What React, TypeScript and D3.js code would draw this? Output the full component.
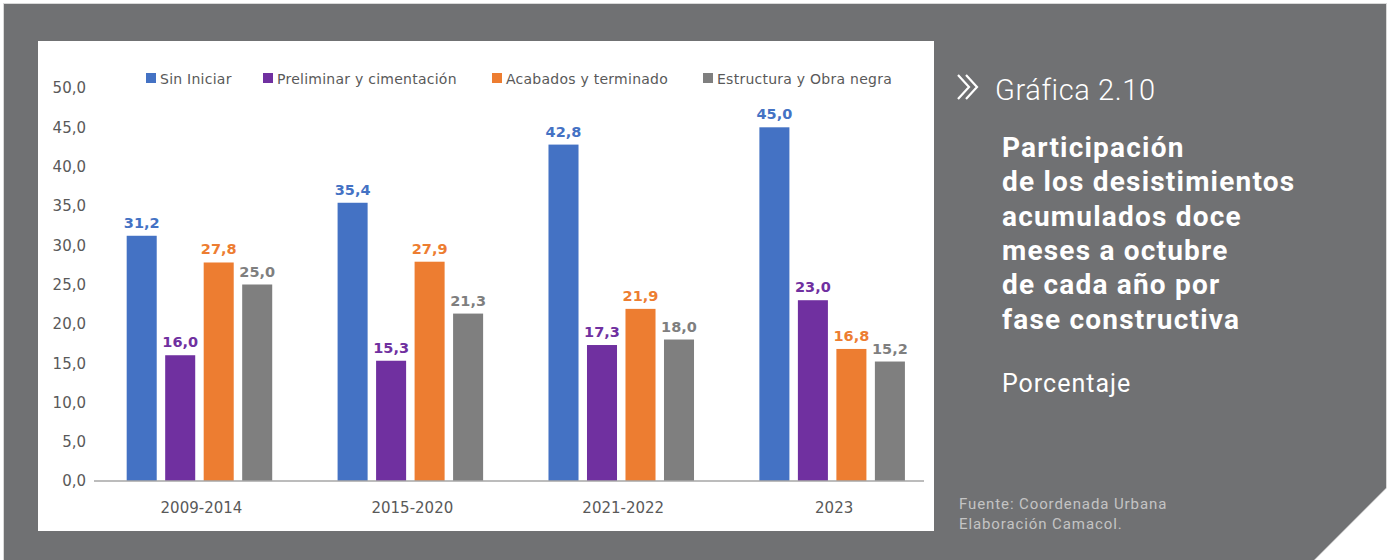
import React from 'react';
import * as d3 from 'd3';

const categories = ['2009-2014', '2015-2020', '2021-2022', '2023'];
const seriesNames = ['Sin Iniciar', 'Preliminar y cimentación', 'Acabados y terminado', 'Estructura y Obra negra'];
const sinIniciar = [31.2, 35.4, 42.8, 45.0];
const preliminar = [16.0, 15.3, 17.3, 23.0];
const acabados = [27.8, 27.9, 21.9, 16.8];
const estructura = [25.0, 21.3, 18.0, 15.2];
const seriesColors = ['#4472C4', '#7030A0', '#ED7D31', '#7F7F7F'];
const yTicks = [0, 5, 10, 15, 20, 25, 30, 35, 40, 45, 50];
const legendX = [146, 263, 492, 703];
const chartNumber = 'Gráfica 2.10';
const titleLines = [
  'Participación',
  'de los desistimientos',
  'acumulados doce',
  'meses a octubre',
  'de cada año por',
  'fase constructiva',
];
const unitLabel = 'Porcentaje';
const sourceLines = ['Fuente: Coordenada Urbana', 'Elaboración Camacol.'];

const seriesValues = [sinIniciar, preliminar, acabados, estructura];

const W = 1393;
const H = 560;
const BG = '#707173';
const CHART_FONT = '"DejaVu Sans", sans-serif';
const PANEL_FONT = 'Roboto, sans-serif';
const AXIS_TEXT = '#595959';

const locale = d3.formatLocale({ decimal: ',', thousands: '.', grouping: [3], currency: ['', ''] });
const fmt = locale.format('.1f');

export default function App() {
  const y = d3.scaleLinear().domain([0, 50]).range([481, 88]);
  const x0 = d3.scaleBand<string>().domain(categories).range([94, 937.6]);
  const x1 = d3.scaleBand<string>().domain(seriesNames).range([-77, 77]).paddingInner(0.22).paddingOuter(0.11);
  const center = (c: string) => (x0(c) as number) + x0.bandwidth() / 2;

  return (
    <svg width={W} height={H} style={{ position: 'absolute', left: 0, top: 0, display: 'block' }}>
      <rect x={0} y={0} width={W} height={H} fill="#ffffff" />
      <polygon points="3,3 1387,3 1387,488 1315,560 3,560" fill="#d9d9d9" />
      <polygon points="4,4 1386,4 1386,488 1314,560 4,560" fill={BG} />
      <rect x={38} y={41} width={896} height={490} fill="#ffffff" />

      {/* legend */}
      {seriesNames.map((s, i) => (
        <g key={s} transform={`translate(${legendX[i]},0)`}>
          <rect x={0} y={73} width={10} height={10} fill={seriesColors[i]} />
          <text x={14} y={83.5} fontFamily={CHART_FONT} fontSize={14} letterSpacing={0.25} fill={AXIS_TEXT}>{s}</text>
        </g>
      ))}

      {/* y tick labels */}
      {yTicks.map((t) => (
        <text key={t} x={86} y={y(t)} dy="0.36em" textAnchor="end" fontFamily={CHART_FONT} fontSize={15} fill={AXIS_TEXT}>
          {fmt(t)}
        </text>
      ))}

      {/* bars */}
      {categories.map((c, ci) => (
        <g key={c}>
          {seriesNames.map((s, si) => {
            const v = seriesValues[si][ci];
            const bx = center(c) + (x1(s) as number);
            return (
              <g key={s}>
                <rect x={bx} y={y(v)} width={x1.bandwidth()} height={y(0) - y(v)} fill={seriesColors[si]} />
                <text
                  x={bx + x1.bandwidth() / 2}
                  y={y(v) - 8}
                  textAnchor="middle"
                  fontFamily={CHART_FONT}
                  fontWeight="bold"
                  fontSize={14.5}
                  fill={seriesColors[si]}
                >
                  {fmt(v)}
                </text>
              </g>
            );
          })}
          <text x={center(c) + 2} y={513} textAnchor="middle" fontFamily={CHART_FONT} fontSize={15} fill={AXIS_TEXT}>
            {c}
          </text>
        </g>
      ))}

      {/* x axis line */}
      <line x1={94} x2={924} y1={y(0)} y2={y(0)} stroke="#a6a6a6" strokeWidth={1.5} />

      {/* right panel */}
      <path d="M958,75 L969,87 L958,99 M966,75 L977,87 L966,99" fill="none" stroke="#ffffff" strokeWidth={2.2} />
      <text x={995} y={100} fontFamily={PANEL_FONT} fontSize={29} fontWeight={300} letterSpacing={0.6} fill="#ffffff">{chartNumber}</text>
      {titleLines.map((l, i) => (
        <text key={l} x={1002} y={157 + i * 34.3} fontFamily={PANEL_FONT} fontSize={28} fontWeight="bold" fill="#ffffff" letterSpacing={1.2}>
          {l}
        </text>
      ))}
      <text x={1002} y={392} fontFamily={PANEL_FONT} fontSize={25} letterSpacing={1} fill="#ffffff">{unitLabel}</text>
      {sourceLines.map((l, i) => (
        <text key={l} x={959} y={509 + i * 20} fontFamily={PANEL_FONT} fontSize={15} letterSpacing={0.9} fill="#c4c4c4">
          {l}
        </text>
      ))}
    </svg>
  );
}
